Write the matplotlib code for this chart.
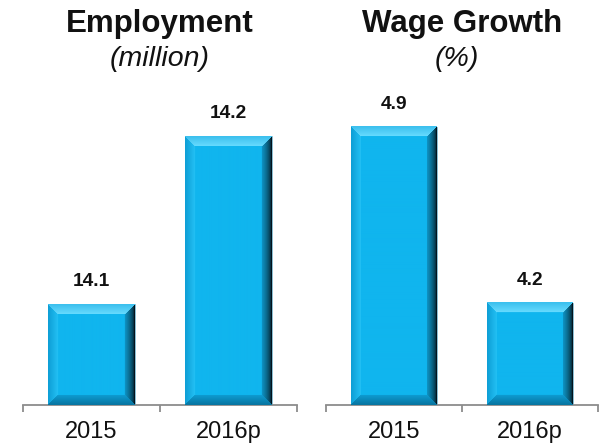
import numpy as np
import matplotlib
matplotlib.use("Agg")
import matplotlib.pyplot as plt

plt.rcParams['font.family'] = ['Liberation Sans', 'DejaVu Sans']

# Data
categories = ["2015", "2016p"]
employment = [14.1, 14.2]
wage_growth = [4.9, 4.2]
titles = ["Employment", "Wage Growth"]
units = ["(million)", "(%)"]
# value-axis windows (truncated baselines)
ylims = [(14.04, 14.2215), (3.794, 5.007)]

W_PX, H_PX = 599, 448
DPI = 100
BAR_W = 0.63
AXIS_GREY = '#8c8c8c'

FACE = np.array([16, 181, 238]) / 255.0
FACETS = {
    # (outer edge colour, inner edge colour)
    'top': (np.array([60, 192, 238]) / 255, np.array([105, 220, 255]) / 255),
    'bottom': (np.array([8, 118, 162]) / 255, np.array([14, 158, 212]) / 255),
    'left': (np.array([14, 159, 214]) / 255, np.array([36, 194, 246]) / 255),
    'right': (np.array([4, 20, 29]) / 255, np.array([14, 152, 202]) / 255),
}


def bevel_image(w, h, b=10):
    """RGB array giving a bevelled (pillow) look to a bar of w x h pixels."""
    w, h = max(int(round(w)), 2), max(int(round(h)), 2)
    yy, xx = np.mgrid[0:h, 0:w].astype(float)
    d = np.stack([yy, h - 1 - yy, xx, w - 1 - xx])
    nearest = d.argmin(axis=0)
    dmin = d.min(axis=0)
    img = np.empty((h, w, 3))
    img[:] = FACE
    t = np.clip(dmin / b, 0, 1)
    for k, name in enumerate(['top', 'bottom', 'left', 'right']):
        outer, inner = FACETS[name]
        tt = t ** (0.6 if name == 'right' else 1.0)
        mask = (nearest == k) & (dmin < b)
        col = outer[None, :] * (1 - tt[mask][:, None]) + inner[None, :] * tt[mask][:, None]
        img[mask] = col
    return img


fig = plt.figure(figsize=(W_PX / DPI, H_PX / DPI), dpi=DPI)

panels = [
    (employment, 23, 274, 0),
    (wage_growth, 326, 272, -5),
]
axis_y_px = 405   # axis line, pixels from top
top_y_px = 100

for i, (vals, left_px, width_px, unit_shift) in enumerate(panels):
    ax = fig.add_axes([left_px / W_PX, (H_PX - axis_y_px) / H_PX,
                       width_px / W_PX, (axis_y_px - top_y_px) / H_PX])
    base, top = ylims[i]
    x = np.arange(len(categories))
    heights = [v - base for v in vals]
    ax.bar(x, heights, bottom=base, width=BAR_W, color=FACE,
           edgecolor='#8fb4c4', linewidth=0.5, zorder=2)
    ax.set_xlim(-0.5, len(categories) - 0.5)
    ax.set_ylim(base, top)

    # bevel shading over each bar
    for xi, v in zip(x, vals):
        x0, x1 = xi - BAR_W / 2, xi + BAR_W / 2
        p0 = ax.transData.transform((x0, base))
        p1 = ax.transData.transform((x1, v))
        img = bevel_image(p1[0] - p0[0], p1[1] - p0[1])
        ax.imshow(img, extent=(x0, x1, base, v), origin='upper',
                  interpolation='bilinear', aspect='auto', zorder=3)
        ax.annotate(f"{v:.1f}", xy=(xi, v), xytext=(0, 13.2),
                    textcoords='offset points', ha='center', va='baseline',
                    fontsize=13.8, fontweight='bold', color='#111111')
    ax.set_xlim(-0.5, len(categories) - 0.5)
    ax.set_ylim(base, top)

    for s in ['top', 'right', 'left']:
        ax.spines[s].set_visible(False)
    ax.spines['bottom'].set_color(AXIS_GREY)
    ax.spines['bottom'].set_linewidth(1.3)
    ax.set_yticks([])
    ax.set_xticks(np.arange(len(categories) + 1) - 0.5)
    ax.set_xticklabels([])
    ax.tick_params(axis='x', which='major', length=5, width=1.3,
                   color=AXIS_GREY, direction='out')
    ax.set_xticks(x, minor=True)
    ax.set_xticklabels(categories, minor=True)
    ax.tick_params(axis='x', which='minor', length=0, pad=11.5,
                   labelsize=17, labelcolor='#111111')

    cx = (left_px + width_px / 2) / W_PX
    fig.text(cx, (H_PX - 32) / H_PX, titles[i], ha='center', va='baseline',
             fontsize=22.5, fontweight='bold', color='#111111')
    fig.text(cx + unit_shift / W_PX, (H_PX - 66) / H_PX, units[i],
             ha='center', va='baseline',
             fontsize=20.5, fontstyle='italic', color='#111111')

fig.savefig('out.png', dpi=DPI)
